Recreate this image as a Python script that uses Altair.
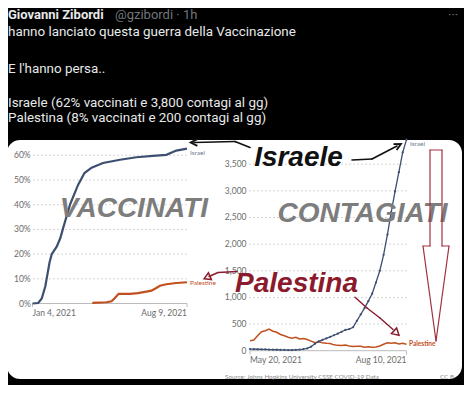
import altair as alt
import pandas as pd

# ---------------- text of the post ----------------
author = "Giovanni Zibordi"
handle = "@gzibordi · 1h"
tweet_lines = [
    "hanno lanciato questa guerra della Vaccinazione",
    "E l'hanno persa..",
    "Israele (62% vaccinati e 3,800 contagi al gg)",
    "Palestina (8% vaccinati e 200 contagi al gg)",
]

# ---------------- left panel: share vaccinated (%) ----------------
vacc_israel_dates = ["2021-01-04", "2021-01-12", "2021-01-17", "2021-01-22", "2021-01-28",
                     "2021-01-31", "2021-02-07", "2021-02-12", "2021-02-16", "2021-02-26",
                     "2021-03-09", "2021-03-18", "2021-03-28", "2021-04-13", "2021-05-07",
                     "2021-05-30", "2021-06-22", "2021-07-11", "2021-07-25", "2021-08-09"]
vacc_israel_pct = [0, 0.2, 2, 7, 16.7, 20, 23, 26.4, 30.5, 40.3,
                   48, 52.8, 55, 56.9, 58.2, 59.2, 59.8, 60.2, 61.9, 62.7]
vacc_pal_dates = ["2021-03-29", "2021-04-18", "2021-04-25", "2021-04-29", "2021-05-05",
                  "2021-05-21", "2021-06-01", "2021-06-11", "2021-06-20", "2021-06-25",
                  "2021-07-02", "2021-07-11", "2021-07-25", "2021-08-09"]
vacc_pal_pct = [0.25, 0.5, 0.9, 2, 3.9, 3.9, 4.2, 4.7, 5.2, 6, 7.2, 7.8, 8.3, 8.6]
vacc_ticks = [0, 10, 20, 30, 40, 50, 60]
vacc_tick_labels = ["0%", "10%", "20%", "30%", "40%", "50%", "60%"]
vacc_x_dates = ["2021-01-04", "2021-08-09"]
vacc_x_labels = ["Jan 4, 2021", "Aug 9, 2021"]

# ---------------- right panel: daily new cases ----------------
case_dates = ["2021-05-20", "2021-05-22", "2021-05-24", "2021-05-26", "2021-05-28", "2021-05-30",
              "2021-06-01", "2021-06-03", "2021-06-05", "2021-06-07", "2021-06-09", "2021-06-11",
              "2021-06-13", "2021-06-15", "2021-06-17", "2021-06-19", "2021-06-21", "2021-06-23",
              "2021-06-25", "2021-06-27", "2021-06-29", "2021-07-01", "2021-07-03", "2021-07-05",
              "2021-07-07", "2021-07-09", "2021-07-11", "2021-07-13", "2021-07-15", "2021-07-17",
              "2021-07-19", "2021-07-21", "2021-07-23", "2021-07-25", "2021-07-27", "2021-07-29",
              "2021-07-31", "2021-08-02", "2021-08-04", "2021-08-06", "2021-08-08", "2021-08-10"]
cases_israel = [30, 28, 27, 25, 24, 22, 20, 18, 15, 14, 12, 13, 15, 22, 30, 42, 75, 130, 175, 205,
                230, 260, 290, 320, 355, 390, 405, 440, 560, 680, 800, 930, 1070, 1280, 1500,
                1800, 2180, 2600, 2990, 3350, 3720, 3960]
cases_pal = [188, 201, 280, 357, 375, 405, 365, 345, 305, 280, 252, 235, 250, 220, 230, 210, 180,
             150, 168, 150, 140, 135, 110, 100, 98, 105, 90, 80, 85, 85, 66, 75, 64, 68, 88, 120,
             148, 140, 150, 128, 140, 122]
case_ticks = [0, 500, 1000, 1500, 2000, 2500, 3000, 3500]
case_tick_labels = ["0", "500", "1,000", "1,500", "2,000", "2,500", "3,000", "3,500"]
case_x_dates = ["2021-05-20", "2021-08-10"]
case_x_labels = ["May 20, 2021", "Aug 10, 2021"]

# ---------------- colours ----------------
BLUE = "#3d4f70"
ORANGE = "#c0501e"
DARKRED = "#8a1a2c"
AXIS_TXT = "#6b6b6b"
GRID = "#d6d6d6"


def dt(s):
    y, m, d = (int(p) for p in s.split("-"))
    return alt.DateTime(year=y, month=m, date=d, utc=True)


vx = alt.Scale(domain=[dt(vacc_x_dates[0]), dt(vacc_x_dates[1])], range=[24.5, 179], nice=False)
vy = alt.Scale(domain=[0, 60], range=[295.5, 147.3], nice=False, zero=False)
cx = alt.Scale(domain=[dt(case_x_dates[0]), dt(case_x_dates[1])], range=[242, 398.5], nice=False)
cy = alt.Scale(domain=[0, 3500], range=[342.7, 156.2], nice=False, zero=False)

one = pd.DataFrame({"k": [0]})


def txt(s, x, y, size, color, font="Roboto", weight="normal", style="normal",
        align="left", baseline="middle"):
    return alt.Chart(one).mark_text(
        font=font, fontSize=size, fontWeight=weight, fontStyle=style,
        align=align, baseline=baseline, color=color
    ).encode(x=alt.value(x), y=alt.value(y), text=alt.value(s))


def seg(x1, y1, x2, y2, color, w=1.5):
    return alt.Chart(one).mark_rule(color=color, strokeWidth=w, strokeCap="round").encode(
        x=alt.value(x1), y=alt.value(y1), x2=alt.value(x2), y2=alt.value(y2))


def head(x, y, angle, color, size=50, shape="M-1,-1L1,0L-1,1", w=1.5):
    return alt.Chart(one).mark_point(shape=shape, filled=False, color=color, size=size,
                                     strokeWidth=w, angle=angle, opacity=1).encode(
        x=alt.value(x), y=alt.value(y))


layers = []

# post header and text
layers.append(txt(author, 0, 6.5, 13, "#e7e9ea", weight="bold"))
layers.append(txt(handle, 107, 6.5, 13, "#71767b"))
layers.append(txt("···", 440, 7, 13, "#71767b"))
for s, yy in zip(tweet_lines, [24, 61, 94.5, 110]):
    layers.append(txt(s, 0, yy, 13.4, "#e7e9ea"))

# white card
layers.append(alt.Chart(one).mark_rect(color="white", cornerRadius=13).encode(
    x=alt.value(-1), x2=alt.value(454), y=alt.value(132), y2=alt.value(371)))

# ---- left panel frame ----
vt = pd.DataFrame({"v": vacc_ticks, "lab": vacc_tick_labels})
layers.append(alt.Chart(vt[vt.v > 0]).mark_rule(color=GRID, strokeDash=[2, 2]).encode(
    y=alt.Y("v:Q", scale=vy, axis=None), x=alt.value(25), x2=alt.value(179)))
layers.append(alt.Chart(vt).mark_text(font="Lato", fontSize=8.5, color=AXIS_TXT, align="right",
                                      baseline="middle").encode(
    y=alt.Y("v:Q", scale=vy, axis=None), x=alt.value(22.7), text="lab:N"))
vxl = pd.DataFrame({"d": vacc_x_dates, "lab": vacc_x_labels})
layers.append(alt.Chart(vxl).mark_rule(color="#bbbbbb").encode(
    x=alt.X("d:T", scale=vx, axis=None), y=alt.value(295.5), y2=alt.value(299)))
layers.append(alt.Chart(vt[vt.v == 0]).mark_rule(color="#bbbbbb").encode(
    y=alt.Y("v:Q", scale=vy, axis=None), x=alt.value(24.5), x2=alt.value(179)))
layers.append(alt.Chart(vxl.iloc[:1]).mark_text(font="Lato", fontSize=8.5, color=AXIS_TXT,
                                               align="left", baseline="middle").encode(
    x=alt.X("d:T", scale=vx, axis=None), y=alt.value(305), text="lab:N"))
layers.append(alt.Chart(vxl.iloc[1:]).mark_text(font="Lato", fontSize=8.5, color=AXIS_TXT,
                                               align="right", baseline="middle").encode(
    x=alt.X("d:T", scale=vx, axis=None), y=alt.value(305), text="lab:N"))

# ---- right panel frame ----
ct = pd.DataFrame({"v": case_ticks, "lab": case_tick_labels})
layers.append(alt.Chart(ct[ct.v > 0]).mark_rule(color=GRID, strokeDash=[2, 2]).encode(
    y=alt.Y("v:Q", scale=cy, axis=None), x=alt.value(241), x2=alt.value(399)))
layers.append(alt.Chart(ct).mark_text(font="Lato", fontSize=8.5, color=AXIS_TXT, align="right",
                                      baseline="middle").encode(
    y=alt.Y("v:Q", scale=cy, axis=None), x=alt.value(238.5), text="lab:N"))
cxl = pd.DataFrame({"d": case_x_dates, "lab": case_x_labels})
layers.append(alt.Chart(cxl).mark_rule(color="#bbbbbb").encode(
    x=alt.X("d:T", scale=cx, axis=None), y=alt.value(343), y2=alt.value(346.5)))
layers.append(alt.Chart(ct[ct.v == 0]).mark_rule(color="#bbbbbb").encode(
    y=alt.Y("v:Q", scale=cy, axis=None), x=alt.value(242), x2=alt.value(398.5)))
layers.append(alt.Chart(cxl.iloc[:1]).mark_text(font="Lato", fontSize=8.5, color=AXIS_TXT,
                                               align="left", baseline="middle").encode(
    x=alt.X("d:T", scale=cx, axis=None), y=alt.value(351.5), text="lab:N"))
layers.append(alt.Chart(cxl.iloc[1:]).mark_text(font="Lato", fontSize=8.5, color=AXIS_TXT,
                                               align="right", baseline="middle").encode(
    x=alt.X("d:T", scale=cx, axis=None), y=alt.value(351.5), text="lab:N"))

# ---- data lines ----
vi = pd.DataFrame({"d": vacc_israel_dates, "v": vacc_israel_pct})
vp = pd.DataFrame({"d": vacc_pal_dates, "v": vacc_pal_pct})
layers.append(alt.Chart(vp).mark_line(color=ORANGE, strokeWidth=2.2).encode(
    x=alt.X("d:T", scale=vx, axis=None), y=alt.Y("v:Q", scale=vy, axis=None)))
layers.append(alt.Chart(vi).mark_line(color=BLUE, strokeWidth=2.2).encode(
    x=alt.X("d:T", scale=vx, axis=None), y=alt.Y("v:Q", scale=vy, axis=None)))

ci = pd.DataFrame({"d": case_dates, "v": cases_israel})
cp = pd.DataFrame({"d": case_dates, "v": cases_pal})
layers.append(alt.Chart(cp).mark_line(color=ORANGE, strokeWidth=1.5).encode(
    x=alt.X("d:T", scale=cx, axis=None), y=alt.Y("v:Q", scale=cy, axis=None)))
layers.append(alt.Chart(ci).mark_line(color=BLUE, strokeWidth=1.3,
                                      point=alt.OverlayMarkDef(color=BLUE, size=5, filled=True)).encode(
    x=alt.X("d:T", scale=cx, axis=None), y=alt.Y("v:Q", scale=cy, axis=None)))

# series end labels
layers.append(txt("Israel", 182, 145, 6.5, "#6d7a92", font="Lato"))
layers.append(txt("Palestine", 182, 275, 6.5, ORANGE, font="Lato"))
layers.append(txt("Israel", 402, 135.5, 6.5, "#6d7a92", font="Lato"))
layers.append(txt("Palestine", 401, 335.5, 6.5, ORANGE, font="Lato", weight="bold"))

# source line
layers.append(txt("Source: Johns Hopkins University CSSE COVID-19 Data", 217, 368.5, 6.3,
                  "#8a8a8a", font="Lato"))
layers.append(txt("CC B", 432, 368.5, 6.3, "#8a8a8a", font="Lato"))

# ---- overlaid annotations ----
layers.append(txt("VACCINATI", 126, 209, 28, "#7d7d7d", font="Liberation Sans", weight="bold",
                  style="italic", align="center", baseline="alphabetic"))
layers.append(txt("CONTAGIATI", 354.5, 214, 28, "#7d7d7d", font="Liberation Sans", weight="bold",
                  style="italic", align="center", baseline="alphabetic"))
layers.append(txt("Israele", 290.5, 157.5, 28, "#111111", font="Liberation Sans", weight="bold",
                  style="italic", align="center", baseline="alphabetic"))
layers.append(txt("Palestina", 288.5, 284, 28, DARKRED, font="Liberation Sans", weight="bold",
                  style="italic", align="center", baseline="alphabetic"))

# black arrows from "Israele"
layers.append(seg(186, 134.5, 227, 133.5, "#111111", 1.6))
layers.append(seg(227, 133.5, 242, 139.5, "#111111", 1.6))
layers.append(head(186, 134.5, 180, "#111111", 45, w=1.8))
layers.append(seg(344, 152, 364, 151, "#111111", 1.6))
layers.append(seg(364, 151, 389, 138, "#111111", 1.6))
layers.append(head(390, 137.5, 332, "#111111", 45, w=1.8))

# dark red arrows from "Palestina"
layers.append(seg(229, 263.5, 210, 264.5, DARKRED, 1.4))
layers.append(seg(210, 264.5, 201, 268.5, DARKRED, 1.4))
layers.append(head(199, 269.5, 156, DARKRED, 55, shape="triangle-right", w=1.5))
layers.append(seg(347, 289.3, 359, 300, DARKRED, 1.4))
layers.append(seg(359, 300, 372, 310, DARKRED, 1.4))
layers.append(seg(372, 310, 385, 321.5, DARKRED, 1.4))
layers.append(head(388.5, 325, 42, DARKRED, 60, shape="triangle-right", w=1.5))

# big hollow down arrow
AR = "#a3303f"
layers.append(seg(422, 142, 434, 142, AR, 1.2))
layers.append(seg(422, 142, 422, 238, AR, 1.2))
layers.append(seg(434, 142, 434, 238, AR, 1.2))
layers.append(seg(415, 238, 422, 238, AR, 1.2))
layers.append(seg(434, 238, 441, 238, AR, 1.2))
layers.append(seg(415, 238, 428, 333, AR, 1.2))
layers.append(seg(441, 238, 428, 333, AR, 1.2))

chart = alt.layer(*layers).resolve_scale(
    x="independent", y="independent"
).properties(
    width=456, height=377, background="#000000", padding=0,
    autosize=alt.AutoSizeParams(type="none")
).configure_view(stroke=None)

chart.save("out.html", embed_options={"renderer": "svg", "actions": False})
